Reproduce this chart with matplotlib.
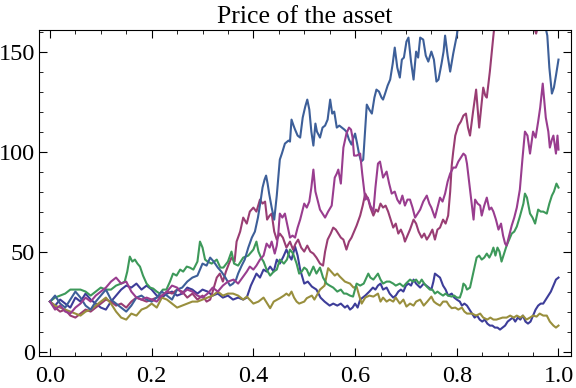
import matplotlib
matplotlib.use("Agg")
import matplotlib.pyplot as plt
from matplotlib.ticker import MultipleLocator, FormatStrFormatter

plt.rcParams['font.family'] = ['Liberation Serif', 'DejaVu Serif']

# six simulated price paths, (t, price)
indigo = [(0.00,25),(0.01,23),(0.02,26),(0.03,24),(0.04,22),(0.05,27),(0.06,25),(0.07,29),(0.08,26),(0.09,24),(0.10,22),(0.11,21),(0.12,25),(0.13,28),(0.14,31),(0.15,33),(0.16,32),(0.17,34),(0.18,31),(0.19,33),(0.20,31),(0.21,28),(0.22,27),(0.23,29),(0.24,30),(0.25,28),(0.26,29),(0.27,32),(0.28,31),(0.29,29),(0.30,31),(0.31,30),(0.32,28),(0.33,29),(0.34,27),(0.35,28),(0.36,26),(0.37,27),(0.38,26),(0.387,27),(0.395,33),(0.406,39),(0.413,37),(0.42,41),(0.426,40),(0.433,42.5),(0.44,40),(0.446,46),(0.452,44),(0.459,47.5),(0.465,51),(0.47,48),(0.475,46),(0.482,52.5),(0.487,48),(0.492,41),(0.50,34),(0.507,35),(0.515,32.5),(0.524,31),(0.532,27),(0.54,25),(0.55,23),(0.557,24),(0.565,23),(0.572,24),(0.58,22),(0.585,23),(0.59,21),(0.595,22),(0.60,24),(0.605,22),(0.61,26),(0.615,27),(0.62,28),(0.628,30),(0.635,32),(0.64,31),(0.645,33),(0.65,34),(0.655,31),(0.662,32),(0.668,29),(0.675,27),(0.68,28),(0.685,30),(0.69,31),(0.695,30),(0.70,33),(0.705,34),(0.71,33),(0.715,36),(0.72,34),(0.728,32),(0.735,34),(0.74,33),(0.745,32),(0.75,31),(0.754,35),(0.757,39),(0.762,38),(0.767,37),(0.773,33),(0.778,31),(0.783,28),(0.79,29),(0.795,27),(0.80,26),(0.806,25),(0.81,23),(0.815,24),(0.82,23),(0.825,21),(0.83,19),(0.835,17),(0.84,18),(0.845,16),(0.85,15),(0.855,16),(0.86,14),(0.865,13),(0.87,13),(0.875,12),(0.88,12),(0.885,11),(0.89,12),(0.895,13),(0.90,15),(0.905,16),(0.91,17),(0.915,15),(0.92,17),(0.925,16),(0.93,18),(0.935,15),(0.94,14),(0.945,15),(0.95,18),(0.955,21),(0.96,23),(0.965,24),(0.97,24),(0.975,26),(0.98,28),(0.985,30),(0.99,33),(0.995,36),(1.0,37)]

red_magenta = [(0.00,25),(0.01,22),(0.02,20),(0.03,21),(0.04,18),(0.05,17),(0.06,19),(0.07,21),(0.08,20),(0.09,22),(0.10,24),(0.11,26),(0.12,25),(0.13,23),(0.14,24),(0.15,22),(0.16,25),(0.17,27),(0.18,26),(0.19,25),(0.20,26),(0.21,27),(0.22,28),(0.23,30),(0.24,29),(0.25,31),(0.26,30),(0.27,27),(0.28,29),(0.29,26),(0.30,28),(0.308,25),(0.315,26),(0.32,30),(0.328,37),(0.334,39),(0.34,35),(0.346,40),(0.352,44),(0.357,47),(0.363,45),(0.367,55),(0.374,60),(0.38,67),(0.387,64),(0.393,70),(0.40,72),(0.406,70),(0.413,76),(0.418,74),(0.423,75),(0.427,66),(0.432,68),(0.436,69),(0.441,60),(0.446,56),(0.452,59),(0.458,57),(0.465,52),(0.472,55),(0.478,51),(0.483,54),(0.488,56),(0.494,52),(0.50,50),(0.506,53),(0.512,50),(0.518,49),(0.524,47),(0.531,44),(0.537,43),(0.541,50),(0.546,56),(0.552,59),(0.557,62),(0.562,61),(0.567,59),(0.572,57),(0.577,56),(0.583,51),(0.588,55),(0.593,57),(0.598,60),(0.603,63),(0.61,68),(0.615,73),(0.62,79),(0.626,76),(0.63,72),(0.636,68),(0.641,71),(0.645,70),(0.65,74),(0.655,72),(0.66,73),(0.665,70),(0.67,66),(0.675,62),(0.68,64),(0.685,59),(0.69,61),(0.695,58),(0.698,55),(0.703,58),(0.708,61),(0.715,66),(0.72,64),(0.725,60),(0.731,57),(0.736,59),(0.741,56),(0.746,58),(0.752,61),(0.757,56),(0.762,61),(0.767,62),(0.773,66),(0.778,64),(0.783,68),(0.787,80),(0.79,93),(0.793,100),(0.797,108),(0.803,113),(0.808,115),(0.813,118),(0.818,119),(0.822,112),(0.826,108),(0.832,120),(0.838,131),(0.844,112),(0.848,122),(0.852,132),(0.856,128),(0.859,127),(0.865,140),(0.872,158),(0.878,172),(0.89,185),(0.91,192),(0.93,180),(0.945,168),(0.952,162),(0.956,159),(0.96,163),(0.97,175),(0.985,190),(1.0,200)]

olive = [(0.00,25),(0.01,23),(0.02,22),(0.03,21),(0.04,20),(0.05,19),(0.06,18),(0.07,20),(0.08,21),(0.09,23),(0.10,25),(0.11,27),(0.12,24),(0.13,20),(0.14,17),(0.15,16),(0.16,19),(0.17,18),(0.18,21),(0.19,22),(0.20,24),(0.21,22),(0.22,27),(0.23,26),(0.24,24),(0.25,22),(0.26,23),(0.27,24),(0.28,25),(0.29,25),(0.30,26),(0.31,27),(0.32,28),(0.33,30),(0.34,28),(0.35,29),(0.36,29),(0.37,28),(0.38,26),(0.387,27.5),(0.40,24),(0.41,25),(0.42,27),(0.433,21.7),(0.44,25),(0.452,26.7),(0.46,28),(0.465,29),(0.47,28),(0.475,30),(0.48,27),(0.485,25),(0.49,24),(0.50,25),(0.505,26.7),(0.515,28),(0.52,26),(0.531,31),(0.54,33),(0.547,41.7),(0.553,40),(0.56,38),(0.565,39),(0.57,37.5),(0.58,35),(0.59,34),(0.597,32),(0.603,32.5),(0.608,28),(0.613,24),(0.62,27),(0.628,28),(0.636,27.5),(0.645,29),(0.65,25),(0.655,27),(0.662,25),(0.668,26),(0.675,25),(0.68,27),(0.688,24),(0.695,26),(0.701,22.5),(0.708,24),(0.715,23),(0.72,25),(0.728,26),(0.735,23),(0.742,25),(0.75,27.5),(0.755,25),(0.76,24),(0.767,23),(0.773,25),(0.78,25),(0.785,23),(0.79,21.7),(0.797,22),(0.803,21),(0.81,22),(0.815,20),(0.82,19),(0.83,19),(0.838,18),(0.846,19),(0.852,17),(0.86,16),(0.866,17),(0.872,16),(0.878,16),(0.884,16.5),(0.89,17),(0.898,17),(0.905,18),(0.912,17),(0.918,18),(0.925,17),(0.93,18),(0.937,16),(0.944,17),(0.95,18),(0.957,17.5),(0.963,19),(0.97,18),(0.977,18),(0.983,15),(0.99,13),(0.995,12),(1.0,13)]

green = [(0.00,25),(0.01,27),(0.02,28),(0.03,29),(0.04,31),(0.05,31),(0.06,31),(0.07,30),(0.08,28),(0.09,30),(0.10,32),(0.11,31),(0.12,31),(0.13,33),(0.14,34),(0.147,35),(0.152,40),(0.157,47.5),(0.162,45),(0.167,46),(0.172,44),(0.177,42.5),(0.183,38),(0.19,34),(0.197,32),(0.203,31.5),(0.21,30),(0.216,29),(0.222,31),(0.229,31),(0.236,35),(0.242,39),(0.249,38),(0.256,41),(0.262,40),(0.269,42.5),(0.275,42),(0.282,41),(0.29,45),(0.295,55),(0.30,52),(0.305,46),(0.31,45),(0.318,44),(0.328,46),(0.335,42),(0.341,42),(0.35,45),(0.357,50),(0.362,44),(0.37,43),(0.38,47),(0.39,48),(0.40,51),(0.406,55),(0.41,50),(0.415,47),(0.42,45),(0.426,41),(0.433,38),(0.44,40),(0.446,41),(0.452,46),(0.46,44),(0.466,46),(0.472,51),(0.478,49),(0.485,44),(0.49,39),(0.495,40),(0.50,42),(0.505,41),(0.51,38),(0.518,42.5),(0.524,39),(0.531,42),(0.537,37),(0.544,34),(0.55,33),(0.557,32),(0.565,30),(0.572,31),(0.578,29),(0.583,29),(0.59,28),(0.596,27.5),(0.603,34),(0.61,33),(0.617,34),(0.626,39),(0.63,37),(0.636,36),(0.645,39),(0.65,36),(0.655,34),(0.662,35),(0.668,35),(0.675,34),(0.68,33),(0.688,34),(0.695,32.5),(0.70,34),(0.708,36),(0.714,35),(0.72,36),(0.726,34),(0.731,36),(0.736,34),(0.741,32.5),(0.747,31),(0.752,31),(0.757,29),(0.762,30),(0.767,29),(0.773,28),(0.778,29),(0.783,28),(0.79,27.5),(0.795,28),(0.80,27),(0.806,27),(0.81,30),(0.813,34),(0.817,33),(0.82,31),(0.826,32),(0.833,40),(0.839,47),(0.844,48),(0.849,46),(0.854,47),(0.859,49),(0.864,47),(0.868,49),(0.872,52),(0.876,48),(0.88,52),(0.884,50),(0.888,45),(0.893,49),(0.898,53),(0.903,56),(0.908,59),(0.913,60),(0.918,62.5),(0.924,67.5),(0.931,74),(0.934,79),(0.938,77),(0.944,69),(0.949,67),(0.954,64),(0.96,71),(0.965,70),(0.97,70),(0.977,69),(0.982,74),(0.987,78),(0.991,80),(0.996,84),(1.0,82)]

steel_blue = [(0.00,25),(0.01,28),(0.02,24),(0.03,22),(0.04,26),(0.05,30),(0.06,27),(0.07,23),(0.08,21),(0.09,25),(0.10,28),(0.11,31),(0.12,26),(0.13,24),(0.14,22),(0.15,20),(0.16,23),(0.17,27),(0.18,28),(0.19,26),(0.20,25),(0.21,27),(0.22,30),(0.23,28),(0.24,26),(0.25,31),(0.26,32),(0.27,35),(0.28,37),(0.29,38),(0.30,44),(0.308,43),(0.315,47),(0.322,45),(0.33,42),(0.337,40),(0.345,37),(0.354,33),(0.36,34),(0.366,36),(0.37,39),(0.377,43),(0.383,46),(0.39,52),(0.397,57),(0.403,60),(0.409,67),(0.414,75),(0.418,82),(0.422,86),(0.425,88),(0.428,84),(0.431,79),(0.436,72),(0.441,66),(0.446,78),(0.452,96),(0.456,99),(0.462,104),(0.469,105.5),(0.472,105),(0.475,116),(0.479,113),(0.482,111),(0.487,108),(0.492,107),(0.497,117),(0.502,122.5),(0.506,126),(0.51,121),(0.514,110),(0.518,103),(0.522,114),(0.525,110),(0.531,107),(0.536,112),(0.541,113),(0.546,116),(0.551,126),(0.555,119),(0.559,120),(0.564,112),(0.569,113),(0.574,112),(0.579,111),(0.583,110),(0.588,106),(0.593,103.5),(0.597,107),(0.60,109),(0.604,104),(0.608,98.5),(0.612,95),(0.616,96),(0.62,112),(0.623,123.5),(0.628,121),(0.633,119),(0.638,127),(0.642,131),(0.647,130),(0.652,127),(0.655,126),(0.659,129),(0.664,133),(0.669,136),(0.674,144),(0.678,152),(0.683,142),(0.688,137),(0.692,146),(0.696,147),(0.701,155),(0.705,157),(0.71,145),(0.715,136),(0.72,150),(0.724,147),(0.728,157),(0.734,156),(0.739,148),(0.744,145),(0.75,150),(0.755,146),(0.76,135),(0.764,136),(0.77,144),(0.774,150),(0.777,158),(0.782,148),(0.787,140),(0.793,149),(0.80,158),(0.805,168),(0.82,178),(0.85,190),(0.88,200),(0.91,195),(0.94,185),(0.96,172),(0.972,165),(0.978,158),(0.982,142),(0.987,129),(0.991,132),(0.995,138),(1.0,146)]

purple = [(0.00,25),(0.01,21),(0.02,23),(0.03,20),(0.04,19),(0.05,22),(0.06,24),(0.07,27),(0.08,25),(0.09,28),(0.10,30),(0.11,32),(0.12,35),(0.13,37),(0.14,34),(0.15,35),(0.16,30),(0.17,27),(0.18,26),(0.19,27),(0.20,26),(0.21,25),(0.22,28),(0.23,30),(0.24,33),(0.25,32),(0.26,29),(0.27,31),(0.28,30),(0.29,28),(0.30,27),(0.31,29),(0.32,32),(0.33,30),(0.34,33),(0.35,35),(0.361,36),(0.37,34),(0.38,37.5),(0.387,40),(0.393,42.5),(0.40,41),(0.406,43),(0.413,46),(0.42,48),(0.426,54),(0.432,52),(0.436,55),(0.442,49),(0.446,53),(0.449,59),(0.452,69),(0.457,67),(0.462,69),(0.467,63),(0.472,57),(0.477,58),(0.482,57),(0.487,62),(0.492,66),(0.495,69),(0.50,74),(0.505,72),(0.51,75),(0.514,82),(0.518,91),(0.522,80),(0.526,76),(0.531,71),(0.536,69),(0.541,67),(0.547,70),(0.554,73),(0.56,87),(0.564,89),(0.567,91),(0.572,84),(0.577,102),(0.583,109),(0.588,112),(0.592,111),(0.595,107),(0.598,98),(0.603,98),(0.61,99),(0.614,89),(0.62,76),(0.625,77),(0.63,73),(0.636,70),(0.64,82),(0.645,94),(0.649,95),(0.655,87),(0.662,90),(0.667,84),(0.672,79),(0.678,80),(0.683,76),(0.688,74),(0.693,78),(0.698,73),(0.703,76),(0.708,76),(0.713,72),(0.718,67),(0.723,69),(0.728,71),(0.734,75),(0.741,78),(0.746,74),(0.75,72),(0.757,67),(0.762,72),(0.767,77),(0.772,75),(0.777,79),(0.782,85),(0.787,89),(0.793,92),(0.798,92),(0.803,95),(0.808,97),(0.813,99),(0.817,98),(0.82,94),(0.826,81),(0.833,66),(0.836,76),(0.841,74),(0.846,73),(0.849,68),(0.854,73),(0.859,77),(0.864,71),(0.868,72),(0.872,70),(0.877,66),(0.882,61),(0.887,64),(0.891,58),(0.895,54),(0.898,53),(0.903,58),(0.908,63),(0.913,67),(0.918,72),(0.924,81),(0.929,96),(0.934,110),(0.939,108),(0.944,99),(0.95,110),(0.955,107),(0.96,115),(0.964,122),(0.969,134),(0.975,117),(0.98,110),(0.983,102),(0.987,106),(0.99,108),(0.995,99),(0.998,108),(1.0,101)]

paths = [indigo, red_magenta, olive, green, steel_blue, purple]
colors = ['#3d3d99', '#993d73', '#998f3d', '#3d995a', '#3d5f99', '#993d8f']

fig = plt.figure(figsize=(5.76, 3.88), dpi=100)
ax = fig.add_axes([0.0682, 0.0825, 0.9226, 0.8402])

for path, c in zip(paths, colors):
    t = [p[0] for p in path]
    v = [p[1] for p in path]
    ax.plot(t, v, color=c, lw=1.5)

ax.set_xlim(-0.021, 1.024)
ax.set_ylim(-2.2, 160.8)
ax.xaxis.set_major_locator(MultipleLocator(0.2))
ax.xaxis.set_minor_locator(MultipleLocator(0.05))
ax.xaxis.set_major_formatter(FormatStrFormatter('%.1f'))
ax.yaxis.set_major_locator(MultipleLocator(50))
ax.yaxis.set_minor_locator(MultipleLocator(10))
ax.tick_params(which='both', direction='in', top=True, right=True, labelsize=17.5)
ax.tick_params(which='major', length=6, width=0.8)
ax.tick_params(which='minor', length=3, width=0.6)
ax.tick_params(axis='x', pad=7)
ax.tick_params(axis='y', pad=3)
for s in ax.spines.values():
    s.set_linewidth(0.8)

ax.set_title('Price of the asset', fontsize=18.5, pad=5)

fig.savefig('out.png', dpi=100)
